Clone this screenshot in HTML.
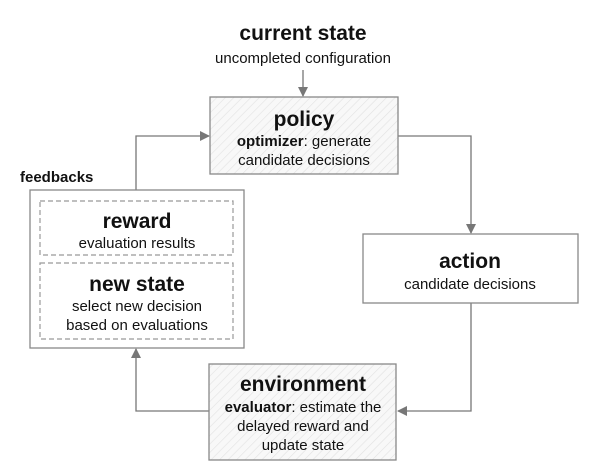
<!DOCTYPE html>
<html><head><style>body{margin:0;background:#fff}svg{display:block}text{font-family:"Liberation Sans",Arial,sans-serif;fill:#111}</style></head>
<body>
<svg width="607" height="476" viewBox="0 0 607 476" xmlns="http://www.w3.org/2000/svg">
<defs>
<pattern id="h" width="6" height="6" patternUnits="userSpaceOnUse" patternTransform="rotate(45)">
<rect width="6" height="6" fill="#f8f8f8"/><line x1="0" y1="0" x2="0" y2="6" stroke="#e2e2e2" stroke-width="1.2"/>
</pattern>
<marker id="a" markerWidth="10" markerHeight="10" refX="9" refY="5" orient="auto" markerUnits="userSpaceOnUse">
<path d="M0,0 L10,5 L0,10 z" fill="#777"/></marker>
</defs>
<g text-anchor="middle">
<text x="303" y="40" font-size="21" font-weight="bold">current state</text>
<text x="303" y="63" font-size="15">uncompleted configuration</text>
</g>
<g stroke="#777" stroke-width="1.3" fill="none">
<line x1="303" y1="70" x2="303" y2="96" marker-end="url(#a)"/>
<polyline points="398,136 471,136 471,233" marker-end="url(#a)"/>
<polyline points="471,303 471,411 398,411" marker-end="url(#a)"/>
<polyline points="209,411 136,411 136,349" marker-end="url(#a)"/>
<polyline points="136,190 136,136 209,136" marker-end="url(#a)"/>
</g>
<rect x="210" y="97" width="188" height="77" fill="url(#h)" stroke="#888" stroke-width="1.3"/>
<rect x="363" y="234" width="215" height="69" fill="#fff" stroke="#888" stroke-width="1.3"/>
<rect x="209" y="364" width="187" height="96" fill="url(#h)" stroke="#888" stroke-width="1.3"/>
<rect x="30" y="190" width="214" height="158" fill="#fff" stroke="#888" stroke-width="1.3"/>
<rect x="40" y="201" width="193" height="54" fill="none" stroke="#999" stroke-width="1.2" stroke-dasharray="5,3"/>
<rect x="40" y="263" width="193" height="76" fill="none" stroke="#999" stroke-width="1.2" stroke-dasharray="5,3"/>
<text x="20" y="182" font-size="15" font-weight="bold">feedbacks</text>
<g text-anchor="middle">
<text x="304" y="126" font-size="21" font-weight="bold">policy</text>
<text x="304" y="146" font-size="15"><tspan font-weight="bold">optimizer</tspan>: generate</text>
<text x="304" y="165" font-size="15">candidate decisions</text>
<text x="470" y="268" font-size="21" font-weight="bold">action</text>
<text x="470" y="289" font-size="15">candidate decisions</text>
<text x="303" y="391" font-size="21" font-weight="bold">environment</text>
<text x="303" y="412" font-size="15"><tspan font-weight="bold">evaluator</tspan>: estimate the</text>
<text x="303" y="431" font-size="15">delayed reward and</text>
<text x="303" y="450" font-size="15">update state</text>
<text x="137" y="228" font-size="21" font-weight="bold">reward</text>
<text x="137" y="248" font-size="15">evaluation results</text>
<text x="137" y="291" font-size="21" font-weight="bold">new state</text>
<text x="137" y="311" font-size="15">select new decision</text>
<text x="137" y="330" font-size="15">based on evaluations</text>
</g>
</svg>
</body></html>
